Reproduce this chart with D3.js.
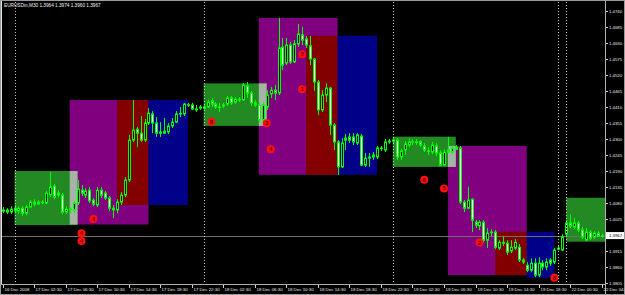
<!DOCTYPE html>
<html>
<head>
<meta charset="utf-8">
<script src="https://cdn.jsdelivr.net/npm/d3@7"></script>
<style>
  html, body { margin: 0; padding: 0; background: #000; }
  svg { display: block; }
</style>
</head>
<body>
<div id="canvas"></div>
<script>
"use strict";

/* Data: EURUSDm M30 bars, 16 Dec 22:30 -> 22 Dec 04:30 */
let open = [
  1.4051,1.4055,1.4048,1.4061,1.4051,1.4061,1.4044,1.4065,1.4082,1.4075,
  1.4082,1.4079,1.4106,1.4137,1.4106,1.4106,1.4048,1.4058,1.4055,1.4079,
  1.4123,1.4106,1.4123,1.4089,1.4072,1.4123,1.4113,1.4096,1.4061,1.4055,
  1.4082,1.4106,1.4158,1.4295,1.4333,1.4319,1.4295,1.4354,1.4385,1.4354,
  1.4323,1.4319,1.4323,1.4344,1.4357,1.4385,1.4385,1.4416,1.4416,1.4402,
  1.4405,1.4409,1.4409,1.4430,1.4419,1.4409,1.4412,1.4419,1.4440,1.4426,
  1.4436,1.4433,1.4481,1.4457,1.4423,1.4416,1.4364,1.4409,1.4454,1.4467,
  1.4457,1.4615,1.4560,1.4622,1.4564,1.4626,1.4657,1.4643,1.4619,1.4574,
  1.4495,1.4399,1.4450,1.4474,1.4347,1.4289,1.4203,1.4295,1.4306,1.4306,
  1.4285,1.4309,1.4209,1.4233,1.4237,1.4237,1.4268,1.4261,1.4289,1.4292,
  1.4295,1.4237,1.4261,1.4278,1.4289,1.4289,1.4289,1.4275,1.4258,1.4254,
  1.4275,1.4251,1.4209,1.4261,1.4254,1.4264,1.4268,1.4082,1.4061,1.4092,
  1.4013,1.4000,1.4013,1.3951,1.3979,1.3979,1.3924,1.3944,1.3941,1.3914,
  1.3924,1.3927,1.3883,1.3865,1.3848,1.3872,1.3831,1.3872,1.3859,1.3883,
  1.3876,1.3920,1.3917,1.3972,1.4010,1.3996,1.4010,1.3986,1.3951,1.3979,
  1.3962,1.3975,1.3964
];
let high = [
  1.4065,1.4061,1.4068,1.4072,1.4068,1.4068,1.4072,1.4089,1.4092,1.4089,
  1.4089,1.4120,1.4185,1.4144,1.4123,1.4113,1.4068,1.4065,1.4086,1.4158,
  1.4141,1.4130,1.4134,1.4096,1.4134,1.4134,1.4120,1.4103,1.4072,1.4092,
  1.4117,1.4168,1.4313,1.4433,1.4340,1.4378,1.4368,1.4405,1.4395,1.4374,
  1.4357,1.4371,1.4354,1.4371,1.4395,1.4409,1.4423,1.4423,1.4423,1.4416,
  1.4416,1.4419,1.4433,1.4440,1.4426,1.4423,1.4423,1.4447,1.4447,1.4443,
  1.4443,1.4491,1.4495,1.4464,1.4433,1.4423,1.4426,1.4467,1.4478,1.4485,
  1.4715,1.4646,1.4646,1.4633,1.4639,1.4694,1.4684,1.4653,1.4653,1.4577,
  1.4502,1.4467,1.4491,1.4478,1.4354,1.4295,1.4302,1.4316,1.4319,1.4319,
  1.4319,1.4316,1.4251,1.4251,1.4254,1.4275,1.4275,1.4299,1.4299,1.4302,
  1.4302,1.4264,1.4292,1.4302,1.4299,1.4299,1.4295,1.4285,1.4271,1.4289,
  1.4285,1.4261,1.4264,1.4306,1.4275,1.4278,1.4275,1.4089,1.4134,1.4096,
  1.4020,1.4020,1.4020,1.3993,1.3989,1.3986,1.3951,1.3965,1.3951,1.3951,
  1.3955,1.3938,1.3889,1.3876,1.3889,1.3889,1.3893,1.3883,1.3889,1.3889,
  1.3924,1.3931,1.3972,1.4020,1.4041,1.4027,1.4017,1.3996,1.3993,1.3986,
  1.3982,1.3982,1.3974
];
let low = [
  1.4044,1.4041,1.4041,1.4044,1.4041,1.4034,1.4037,1.4061,1.4068,1.4072,
  1.4075,1.4075,1.4099,1.4092,1.4099,1.4041,1.4041,1.4044,1.4044,1.4072,
  1.4103,1.4096,1.4079,1.4068,1.4065,1.4096,1.4089,1.4051,1.4027,1.4044,
  1.4072,1.4099,1.4151,1.4289,1.4271,1.4289,1.4289,1.4347,1.4319,1.4306,
  1.4306,1.4316,1.4316,1.4337,1.4354,1.4374,1.4378,1.4409,1.4399,1.4392,
  1.4399,1.4399,1.4405,1.4409,1.4402,1.4392,1.4405,1.4412,1.4416,1.4419,
  1.4426,1.4430,1.4440,1.4412,1.4409,1.4357,1.4357,1.4399,1.4440,1.4433,
  1.4450,1.4536,1.4553,1.4557,1.4560,1.4615,1.4622,1.4612,1.4553,1.4464,
  1.4381,1.4392,1.4426,1.4313,1.4261,1.4175,1.4199,1.4261,1.4285,1.4278,
  1.4278,1.4206,1.4203,1.4203,1.4227,1.4230,1.4258,1.4254,1.4282,1.4285,
  1.4227,1.4227,1.4244,1.4271,1.4278,1.4278,1.4271,1.4254,1.4244,1.4247,
  1.4240,1.4206,1.4206,1.4251,1.4247,1.4261,1.4075,1.4048,1.4058,1.3979,
  1.3993,1.3986,1.3944,1.3924,1.3965,1.3920,1.3917,1.3931,1.3900,1.3907,
  1.3917,1.3876,1.3869,1.3841,1.3841,1.3824,1.3824,1.3848,1.3848,1.3862,
  1.3869,1.3917,1.3914,1.3965,1.3993,1.3989,1.3979,1.3955,1.3948,1.3951,
  1.3955,1.3962,1.3960
];
let close = [
  1.4055,1.4048,1.4058,1.4051,1.4061,1.4044,1.4065,1.4082,1.4075,1.4082,
  1.4080,1.4113,1.4134,1.4099,1.4113,1.4048,1.4058,1.4055,1.4079,1.4127,
  1.4113,1.4120,1.4086,1.4075,1.4123,1.4106,1.4096,1.4061,1.4055,1.4082,
  1.4106,1.4158,1.4295,1.4330,1.4319,1.4295,1.4354,1.4388,1.4354,1.4319,
  1.4319,1.4326,1.4344,1.4357,1.4385,1.4387,1.4419,1.4417,1.4402,1.4399,
  1.4409,1.4405,1.4426,1.4419,1.4409,1.4409,1.4416,1.4440,1.4423,1.4436,
  1.4433,1.4485,1.4457,1.4423,1.4416,1.4364,1.4416,1.4450,1.4467,1.4457,
  1.4612,1.4553,1.4622,1.4564,1.4626,1.4660,1.4639,1.4622,1.4574,1.4495,
  1.4399,1.4450,1.4474,1.4347,1.4289,1.4203,1.4285,1.4302,1.4295,1.4289,
  1.4313,1.4209,1.4233,1.4237,1.4244,1.4268,1.4266,1.4289,1.4292,1.4295,
  1.4237,1.4258,1.4282,1.4289,1.4290,1.4287,1.4278,1.4261,1.4257,1.4278,
  1.4251,1.4209,1.4254,1.4254,1.4268,1.4271,1.4082,1.4061,1.4089,1.4020,
  1.4003,1.4013,1.3951,1.3975,1.3977,1.3927,1.3944,1.3941,1.3910,1.3927,
  1.3944,1.3883,1.3876,1.3848,1.3872,1.3831,1.3872,1.3859,1.3876,1.3872,
  1.3917,1.3924,1.3962,1.4010,1.4000,1.4010,1.3986,1.3962,1.3979,1.3958,
  1.3975,1.3965,1.3967
];

/* Time axis labels (bar index -> text) */
let timeTickBars = [0, 8, 16, 24, 32, 40, 48, 56, 64, 72, 80, 88, 96, 104, 112, 120, 128, 136, 144, 152];
let timeTickLabels = [
  "16 Dec 2008", "17 Dec 02:30", "17 Dec 06:30", "17 Dec 10:30", "17 Dec 14:30",
  "17 Dec 18:30", "17 Dec 22:30", "18 Dec 02:30", "18 Dec 06:30", "18 Dec 10:30",
  "18 Dec 14:30", "18 Dec 18:30", "18 Dec 22:30", "19 Dec 02:30", "19 Dec 06:30",
  "19 Dec 10:30", "19 Dec 14:30", "19 Dec 18:30", "22 Dec 00:30", "22 Dec 04:30"
];

/* Price axis labels */
let priceTicks = [1.3805, 1.3860, 1.3915, 1.3970, 1.4025, 1.4080, 1.4135, 1.4190, 1.4245,
  1.4300, 1.4355, 1.4410, 1.4465, 1.4520, 1.4575, 1.4630, 1.4685, 1.4740];

/* Day separators (bar index) */
let separatorBars = [3, 51, 99, 141, 143];

/* Session boxes */
let zoneKind = ["asia", "europe", "overlap", "america", "asia", "europe", "overlap", "america",
  "asia", "europe", "overlap", "america", "asia"];
let zoneFrom = [3, 17, 29, 37, 51, 65, 77, 85, 99, 113, 125, 133, 143];
let zoneTo = [19, 37, 37, 47, 67, 85, 85, 95, 115, 133, 133, 140, 153];
let zoneHigh = [1.4189, 1.4433, 1.4433, 1.4433, 1.4490, 1.4715, 1.4654, 1.4654,
  1.4307, 1.4275, 1.3980, 1.3980, 1.4097];
let zoneLow = [1.4003, 1.4005, 1.4072, 1.4072, 1.4344, 1.4176, 1.4176, 1.4176,
  1.4203, 1.3831, 1.3831, 1.3822, 1.3946];

/* Numbered markers */
let markBar = [23, 20, 20, 53, 67, 68, 76, 76, 107, 112, 121, 140];
let markPrice = [1.4024, 1.3975, 1.3948, 1.4358, 1.4353, 1.4264, 1.4470, 1.4590,
  1.4159, 1.4129, 1.3943, 1.3822];
let markText = ["4", "4", "4", "8", "3", "4", "1", "2", "6", "5", "2", "8"];

let symbolText = "EURUSDm,M30  1.3964 1.3974 1.3960 1.3967";
let bidPrice = 1.3967;

/* SVG setup */
let svgWidth = 625;
let svgHeight = 295;
let plotRight = 605;
let plotBottom = 284;

let zoneColors = { asia: "#238a23", europe: "#800080", overlap: "#820000", america: "#000088" };
let mixColor = "#a6b4a6";
let fontFam = "'Liberation Sans', Arial, sans-serif";

let svg = d3.select("#canvas")
  .append("svg")
  .attr("width", svgWidth)
  .attr("height", svgHeight)
  .style("background", "#000");

/* Scales */
let xScale = d3.scaleLinear().domain([0, 152]).range([2.7, 601.6]);
let yScale = d3.scaleLinear().domain([1.3805, 1.4740]).range([282.7, 10.7]);

svg.append("clipPath")
  .attr("id", "plot")
  .append("rect")
  .attr("x", 2)
  .attr("y", 2)
  .attr("width", plotRight - 2)
  .attr("height", plotBottom - 2);

let plot = svg.append("g").attr("clip-path", "url(#plot)");

/* Session boxes */
let order = ["europe", "overlap", "america", "asia"];
for (let k = 0; k < order.length; k++) {
  for (let i = 0; i < zoneKind.length; i++) {
    if (zoneKind[i] !== order[k]) continue;
    let x0 = xScale(zoneFrom[i]);
    let x1 = xScale(zoneTo[i]);
    plot.append("rect")
      .attr("x", x0)
      .attr("y", yScale(zoneHigh[i]))
      .attr("width", x1 - x0)
      .attr("height", yScale(zoneLow[i]) - yScale(zoneHigh[i]))
      .attr("fill", zoneColors[zoneKind[i]]);
  }
}

// where an asia box runs into the europe box the colours mix to a light grey
for (let i = 0; i < zoneKind.length; i++) {
  if (zoneKind[i] !== "asia") continue;
  for (let j = 0; j < zoneKind.length; j++) {
    if (zoneKind[j] !== "europe") continue;
    if (zoneFrom[j] < zoneFrom[i] || zoneFrom[j] > zoneTo[i]) continue;
    let top = Math.min(zoneHigh[i], zoneHigh[j]);
    let bottom = Math.max(zoneLow[i], zoneLow[j]);
    plot.append("rect")
      .attr("x", xScale(zoneFrom[j]))
      .attr("y", yScale(top))
      .attr("width", xScale(zoneTo[i]) - xScale(zoneFrom[j]))
      .attr("height", yScale(bottom) - yScale(top))
      .attr("fill", mixColor);
  }
}

/* Day separators */
for (let i = 0; i < separatorBars.length; i++) {
  let x = Math.round(xScale(separatorBars[i])) + 0.5;
  svg.append("line")
    .attr("x1", x)
    .attr("x2", x)
    .attr("y1", 2)
    .attr("y2", plotBottom)
    .attr("stroke", "#c8c8c8")
    .attr("stroke-dasharray", "1,2");
}

/* Bid line */
plot.append("line")
  .attr("x1", 2)
  .attr("x2", plotRight)
  .attr("y1", Math.round(yScale(bidPrice)) + 0.5)
  .attr("y2", Math.round(yScale(bidPrice)) + 0.5)
  .attr("stroke", "#6e6e6e");

/* Candles */
for (let i = 0; i < open.length; i++) {
  let cx = Math.round(xScale(i)) + 0.5;
  plot.append("line")
    .attr("x1", cx)
    .attr("x2", cx)
    .attr("y1", yScale(high[i]))
    .attr("y2", yScale(low[i]))
    .attr("stroke", "#00ff00");

  let yTop = yScale(Math.max(open[i], close[i]));
  let yBot = yScale(Math.min(open[i], close[i]));
  plot.append("rect")
    .attr("x", cx - 1)
    .attr("y", yTop)
    .attr("width", 2)
    .attr("height", Math.max(yBot - yTop, 0.6))
    .attr("fill", close[i] >= open[i] ? "#000" : "#fff")
    .attr("stroke", "#00ff00")
    .attr("stroke-width", 1);
}

/* Markers */
for (let i = 0; i < markBar.length; i++) {
  let x = xScale(markBar[i]);
  let y = yScale(markPrice[i]);
  plot.append("circle")
    .attr("cx", x)
    .attr("cy", y)
    .attr("r", 4)
    .attr("fill", "#ff1010");
  plot.append("text")
    .attr("x", x)
    .attr("y", y + 2)
    .attr("text-anchor", "middle")
    .style("font-family", fontFam)
    .style("font-size", "6px")
    .style("font-weight", "bold")
    .attr("fill", "#700000")
    .text(markText[i]);
}

/* Frame and axes */
svg.append("rect")
  .attr("x", 0.5)
  .attr("y", 0.5)
  .attr("width", svgWidth - 1)
  .attr("height", svgHeight - 1)
  .attr("fill", "none")
  .attr("stroke", "#9a9a9a");

svg.append("line")
  .attr("x1", 1.5).attr("x2", 1.5)
  .attr("y1", 1).attr("y2", plotBottom)
  .attr("stroke", "#e0e0e0");

svg.append("line")
  .attr("x1", plotRight + 0.5).attr("x2", plotRight + 0.5)
  .attr("y1", 1).attr("y2", svgHeight - 1)
  .attr("stroke", "#b0b0b0");

svg.append("line")
  .attr("x1", 1).attr("x2", plotRight)
  .attr("y1", plotBottom + 0.5).attr("y2", plotBottom + 0.5)
  .attr("stroke", "#b0b0b0");

/* Price ticks */
for (let i = 0; i < priceTicks.length; i++) {
  let y = Math.round(yScale(priceTicks[i])) + 0.5;
  svg.append("line")
    .attr("x1", plotRight + 1)
    .attr("x2", plotRight + 3)
    .attr("y1", y)
    .attr("y2", y)
    .attr("stroke", "#d0d0d0");
  svg.append("text")
    .attr("x", plotRight + 4)
    .attr("y", y + 1.6)
    .style("font-family", fontFam)
    .style("font-size", "4.3px")
    .attr("fill", "#e8e8e8")
    .text(priceTicks[i].toFixed(4));
}

/* Bid label */
let bidY = yScale(bidPrice);
svg.append("rect")
  .attr("x", plotRight + 1)
  .attr("y", bidY - 3.5)
  .attr("width", 18)
  .attr("height", 7)
  .attr("fill", "#fff");
svg.append("text")
  .attr("x", plotRight + 4)
  .attr("y", bidY + 1.6)
  .style("font-family", fontFam)
  .style("font-size", "4.3px")
  .attr("fill", "#000")
  .text(bidPrice.toFixed(4));

/* Time ticks */
for (let i = 0; i < timeTickBars.length; i++) {
  let x = Math.round(xScale(timeTickBars[i])) + 0.5;
  svg.append("line")
    .attr("x1", x)
    .attr("x2", x)
    .attr("y1", plotBottom + 1)
    .attr("y2", plotBottom + 4)
    .attr("stroke", "#d0d0d0");
  svg.append("text")
    .attr("x", x + 1)
    .attr("y", plotBottom + 6.8)
    .style("font-family", fontFam)
    .style("font-size", "4.4px")
    .attr("fill", "#e8e8e8")
    .text(timeTickLabels[i]);
}

/* Symbol header */
svg.append("text")
  .attr("x", 4)
  .attr("y", 7.3)
  .style("font-family", fontFam)
  .style("font-size", "4.7px")
  .attr("fill", "#f0f0f0")
  .text(symbolText);
</script>
</body>
</html>
